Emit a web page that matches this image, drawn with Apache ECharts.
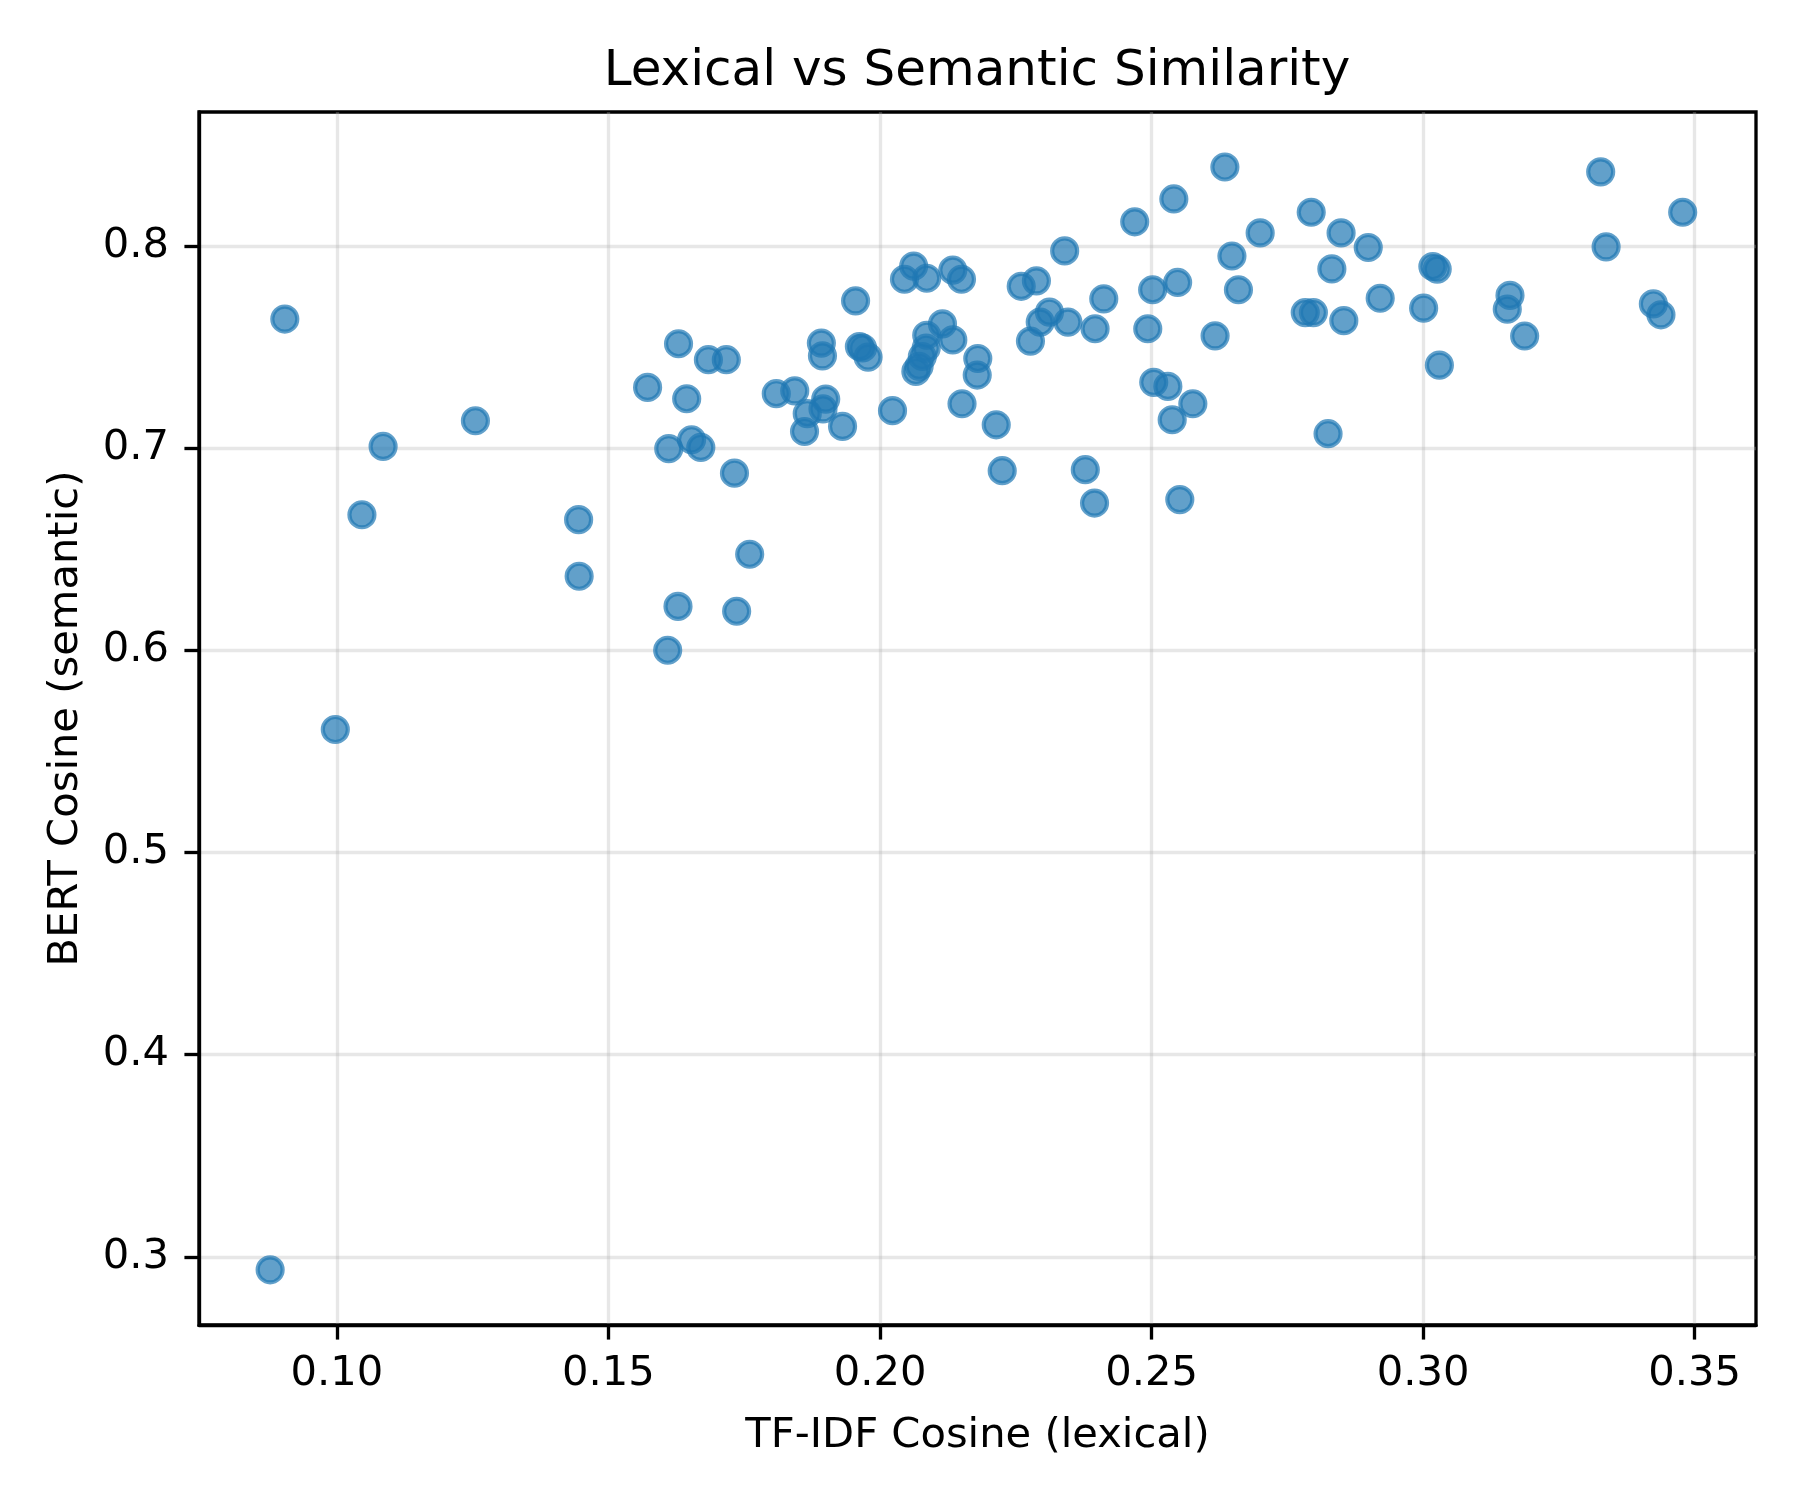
<!DOCTYPE html>
<html>
<head>
<meta charset="utf-8">
<title>Lexical vs Semantic Similarity</title>
<script src="https://cdn.jsdelivr.net/npm/echarts@6/dist/echarts.min.js"></script>
<style>
  html, body { margin: 0; padding: 0; background: #fff; }
  #chart { width: 1800px; height: 1500px; }
</style>
</head>
<body>
<div id="chart"></div>
<script>
// TF-IDF cosine (x) and BERT cosine (y), one pair per document
const tfidf = [
  0.0877, 0.0904, 0.0997, 0.1046, 0.1085, 0.1255, 0.1445, 0.1446, 0.1572, 0.1609,
  0.1611, 0.1628, 0.1629, 0.1644, 0.1653, 0.1670, 0.1684, 0.1717, 0.1732, 0.1736,
  0.1760, 0.1809, 0.1843, 0.1861, 0.1866, 0.1892, 0.1894, 0.1895, 0.1900, 0.1931,
  0.1955, 0.1962, 0.1968, 0.1978, 0.2023, 0.2045, 0.2062, 0.2066, 0.2072, 0.2078,
  0.2085, 0.2086, 0.2086, 0.2115, 0.2134, 0.2134, 0.2150, 0.2151, 0.2179, 0.2180,
  0.2214, 0.2225, 0.2260, 0.2277, 0.2288, 0.2295, 0.2312, 0.2340, 0.2346, 0.2378,
  0.2395, 0.2396, 0.2412, 0.2469, 0.2493, 0.2502, 0.2504, 0.2530, 0.2538, 0.2541,
  0.2548, 0.2552, 0.2576, 0.2617, 0.2635, 0.2648, 0.2660, 0.2700, 0.2783, 0.2794,
  0.2798, 0.2825, 0.2832, 0.2849, 0.2854, 0.2899, 0.2921, 0.3001, 0.3018, 0.3026,
  0.3030, 0.3155, 0.3160, 0.3187, 0.3327, 0.3337, 0.3424, 0.3438, 0.3478
];
const bert = [
  0.2936, 0.7638, 0.5608, 0.6670, 0.7008, 0.7135, 0.6646, 0.6366, 0.7300, 0.6000,
  0.6997, 0.6217, 0.7516, 0.7244, 0.7041, 0.7003, 0.7437, 0.7437, 0.6876, 0.6193,
  0.6475, 0.7269, 0.7283, 0.7082, 0.7170, 0.7519, 0.7456, 0.7194, 0.7242, 0.7107,
  0.7728, 0.7502, 0.7495, 0.7450, 0.7185, 0.7835, 0.7900, 0.7379, 0.7404, 0.7453,
  0.7494, 0.7558, 0.7840, 0.7614, 0.7880, 0.7535, 0.7835, 0.7219, 0.7361, 0.7443,
  0.7115, 0.6888, 0.7800, 0.7529, 0.7827, 0.7623, 0.7672, 0.7975, 0.7623, 0.6893,
  0.6728, 0.7590, 0.7738, 0.8119, 0.7590, 0.7783, 0.7325, 0.7305, 0.7140, 0.8232,
  0.7819, 0.6745, 0.7219, 0.7555, 0.8390, 0.7950, 0.7783, 0.8064, 0.7670, 0.8166,
  0.7670, 0.7071, 0.7886, 0.8064, 0.7630, 0.7992, 0.7741, 0.7692, 0.7898, 0.7885,
  0.7410, 0.7687, 0.7755, 0.7554, 0.8366, 0.7995, 0.7713, 0.7659, 0.8166
];
const xTicks = [0.10, 0.15, 0.20, 0.25, 0.30, 0.35];
const yTicks = [0.3, 0.4, 0.5, 0.6, 0.7, 0.8];

const points = tfidf.map((x, i) => [x, bert[i]]);

const font = 'DejaVu Sans';
const pt = 300 / 72;

const chart = echarts.init(document.getElementById('chart'), null, { renderer: 'canvas' });

const option = {
  backgroundColor: '#ffffff',
  animation: false,
  title: {
    text: 'Lexical vs Semantic Similarity',
    left: 977,
    top: 47,
    textAlign: 'center',
    padding: 0,
    textStyle: { fontFamily: font, fontSize: 12 * pt, fontWeight: 'normal', color: '#000' }
  },
  grid: {
    left: 199,
    right: 44,
    top: 112,
    bottom: 175,
    show: true,
    borderColor: '#000',
    borderWidth: 0.8 * pt,
    backgroundColor: 'transparent'
  },
  xAxis: {
    type: 'value',
    min: 0.0746,
    max: 0.3613,
    name: 'TF-IDF Cosine (lexical)',
    nameLocation: 'middle',
    nameGap: 90,
    nameTextStyle: { fontFamily: font, fontSize: 10 * pt, color: '#000' },
    axisLine: { show: true, onZero: false, lineStyle: { color: '#000', width: 0.8 * pt } },
    axisTick: { show: true, customValues: xTicks, length: 3.5 * pt, lineStyle: { color: '#000', width: 0.8 * pt } },
    axisLabel: {
      customValues: xTicks,
      margin: 28,
      fontFamily: font, fontSize: 10 * pt, color: '#000',
      formatter: v => v.toFixed(2)
    },
    splitLine: {
      show: true,
      lineStyle: { color: 'rgba(176,176,176,0.3)', width: 0.8 * pt }
    }
  },
  yAxis: {
    type: 'value',
    min: 0.2663,
    max: 0.8662,
    name: 'BERT Cosine (semantic)',
    nameLocation: 'middle',
    nameRotate: 90,
    nameGap: 112,
    nameTextStyle: { fontFamily: font, fontSize: 10 * pt, color: '#000' },
    axisLine: { show: true, onZero: false, lineStyle: { color: '#000', width: 0.8 * pt } },
    axisTick: { show: true, customValues: yTicks, length: 3.5 * pt, lineStyle: { color: '#000', width: 0.8 * pt } },
    axisLabel: {
      customValues: yTicks,
      margin: 30,
      fontFamily: font, fontSize: 10 * pt, color: '#000',
      formatter: v => v.toFixed(1)
    },
    splitLine: {
      show: true,
      lineStyle: { color: 'rgba(176,176,176,0.3)', width: 0.8 * pt }
    }
  },
  series: [
    {
      type: 'scatter',
      data: points,
      symbol: 'circle',
      symbolSize: 6 * pt,
      itemStyle: {
        color: '#1f77b4',
        borderColor: '#1f77b4',
        borderWidth: 1 * pt,
        opacity: 0.7
      }
    }
  ]
};

chart.setOption(option);
</script>
</body>
</html>
